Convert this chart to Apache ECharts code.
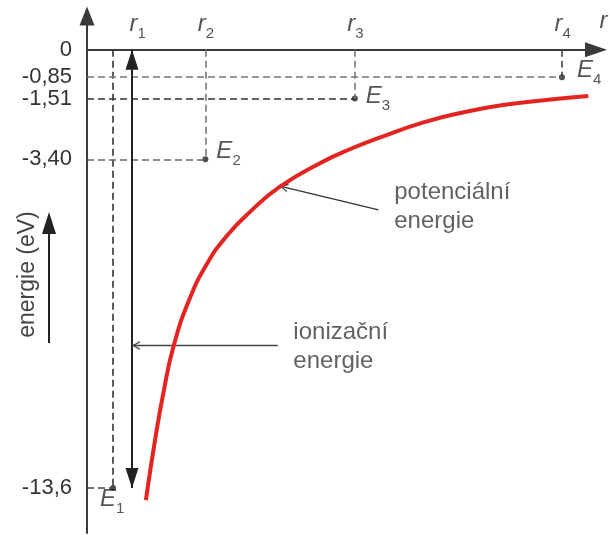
<!DOCTYPE html>
<html><head><meta charset="utf-8">
<script src="https://cdn.jsdelivr.net/npm/echarts@6/dist/echarts.min.js"></script>
<style>html,body{margin:0;padding:0;background:#fff}#c{width:610px;height:535px}</style>
</head><body><div id="c"></div>
<script>
// ---------------- data ----------------
const levelNames = ['1', '2', '3', '4'];
const levelR = [0.88, 4.0, 9.05, 16.05];          // drawn orbit radii r1..r4
const levelE = [-13.6, -3.40, -1.51, -0.85];        // energies E1..E4 (eV)
const tickValues = [0, -0.85, -1.51, -3.40, -13.6];
const tickLabels = ['0', '-0,85', '-1,51', '-3,40', '-13,6'];
const curveR = [1.99, 2.30, 2.58, 2.92, 3.45, 4.05, 4.72, 5.51, 6.52, 7.87, 8.9, 9.96, 11.37, 12.77, 14.18, 15.59, 16.94];
const curveE = [-13.98, -12.11, -10.66, -9.22, -7.77, -6.65, -5.78, -5.03, -4.25, -3.52, -3.08, -2.70, -2.25, -1.93, -1.70, -1.55, -1.43];
const potentialText = 'potenciální\nenergie';
const ionizationText = 'ionizační\nenergie';
const axisName = 'energie (eV)';

// ---------------- layout ----------------
const FONT = '"Liberation Sans", Arial, Helvetica, sans-serif';
const X_MAX = 17.2, Y_MIN = -15, Y_MAX = 1.05;
const ionX = 1.52;                       // double arrow position
const potLeader = [[6.52, -4.23], [9.85, -4.97]];
const ionLeader = [[ionX, -9.18], [6.45, -9.18]];
const potTextAt = [10.40, -3.98];
const ionTextAt = [6.99, -8.34];
const eLabelPos = [[-10, 7], [14, -12], [14, -6], [18, -11]];
const rLabelPos = [[17, -32], [-7, -32], [-7, -32], [-7, -32]];
const hColors = ['#444', '#666', '#333', '#777'];
const vColors = ['#333', '#777', '#777', '#444'];
const chevron = 'path://M0,10 L5,0 L10,10 L8.4,10 L5,3 L1.6,10 Z';

function subRich(size, sub) {
  return {
    m: {fontFamily: FONT, fontStyle: 'italic', fontSize: size, lineHeight: size, padding: [0, 0, 5, 0], verticalAlign: 'bottom', color: '#2a2a2a'},
    s: {fontFamily: FONT, fontSize: sub, lineHeight: sub, verticalAlign: 'bottom', color: '#2a2a2a'}
  };
}

const guideLines = [];
levelR.forEach((r, i) => {
  guideLines.push([{coord: [0, levelE[i]], lineStyle: {color: hColors[i]}}, {coord: [r, levelE[i]]}]);
  guideLines.push([{coord: [r, 0], lineStyle: {color: vColors[i]}}, {coord: [r, levelE[i]]}]);
});

const chart = echarts.init(document.getElementById('c'));
chart.setOption({
  animation: false,
  backgroundColor: '#fff',
  grid: {left: 87, right: 14, top: 16, bottom: 2, containLabel: false, outerBoundsMode: 'none'},
  xAxis: {
    type: 'value', min: 0, max: X_MAX,
    axisLine: {onZero: true, symbol: ['none', 'triangle'], symbolSize: [15, 22], lineStyle: {color: '#3a3a3a', width: 2}},
    axisTick: {show: false}, axisLabel: {show: false}, splitLine: {show: false}
  },
  yAxis: {
    type: 'value', min: Y_MIN, max: Y_MAX,
    name: axisName, nameLocation: 'middle', nameRotate: 90, nameGap: 48, nameMoveOverlap: false,
    nameTextStyle: {fontFamily: FONT, fontSize: 23, color: '#444'},
    axisLine: {symbol: ['none', 'triangle'], symbolSize: [15, 19], lineStyle: {color: '#3a3a3a', width: 2}},
    axisTick: {show: false},
    splitLine: {show: false},
    axisLabel: {
      customValues: tickValues, margin: 15,
      fontFamily: FONT, fontSize: 22, color: '#333',
      formatter: v => { const k = tickValues.findIndex(t => Math.abs(t - v) < 1e-6); return k >= 0 ? tickLabels[k] : ''; }
    }
  },
  graphic: [
    {type: 'line', shape: {x1: 49, y1: 343, x2: 49, y2: 228}, style: {stroke: '#222', lineWidth: 2}},
    {type: 'polygon', shape: {points: [[42, 234], [56, 234], [49, 212]]}, style: {fill: '#222'}}
  ],
  series: [
    {
      type: 'line', name: 'curve', z: 5,
      data: curveR.map((r, i) => [r, curveE[i]]),
      smooth: 0.5, showSymbol: false, symbol: 'none',
      lineStyle: {color: '#e42421', width: 4}
    },
    {
      type: 'scatter', name: 'levels', z: 4,
      data: levelR.map((r, i) => ({
        value: [r, levelE[i]],
        label: {show: true, position: eLabelPos[i], align: 'left', verticalAlign: 'top',
          formatter: '{m|E}{s|' + levelNames[i] + '}', rich: subRich(24, 15)}
      })),
      symbol: 'circle', symbolSize: 6, itemStyle: {color: '#222'},
      markLine: {
        silent: true, symbol: 'none', label: {show: false},
        lineStyle: {type: [7, 4], width: 1.6, color: '#555'},
        data: guideLines
      }
    },
    {
      type: 'scatter', name: 'rlabels', z: 4,
      data: levelR.map((r, i) => ({
        value: [r, 0],
        label: {show: true, position: rLabelPos[i], align: 'left', verticalAlign: 'top',
          formatter: '{m|r}{s|' + levelNames[i] + '}', rich: subRich(24, 15)}
      })).concat([{
        value: [X_MAX, 0],
        label: {show: true, position: [4, -35], align: 'left', verticalAlign: 'top',
          formatter: '{m|r}', rich: subRich(24, 15)}
      }]),
      symbolSize: 1, itemStyle: {color: 'rgba(0,0,0,0)'}
    },
    {
      type: 'scatter', name: 'annotations', z: 6,
      data: [
        {value: potTextAt, label: {show: true, formatter: potentialText}},
        {value: ionTextAt, label: {show: true, formatter: ionizationText}}
      ],
      symbolSize: 1, itemStyle: {color: 'rgba(0,0,0,0)'},
      label: {position: [0, 0], align: 'left', verticalAlign: 'top', fontFamily: FONT, fontSize: 24, lineHeight: 29, color: '#3a3a3a'},
      markLine: {
        silent: true, label: {show: false},
        data: [
          [{coord: [ionX, 0], symbol: 'triangle', symbolSize: [13, 20], symbolOffset: [0, 10], lineStyle: {color: '#222', width: 2, type: 'solid'}},
           {coord: [ionX, levelE[0]], symbol: 'triangle', symbolSize: [13, 20], symbolOffset: [0, 10]}],
          [{coord: potLeader[0], symbol: chevron, symbolSize: [9, 8], symbolOffset: [0, 4], lineStyle: {color: '#333', width: 1.3, type: 'solid'}},
           {coord: potLeader[1], symbol: 'none'}],
          [{coord: ionLeader[0], symbol: chevron, symbolSize: [9, 8], symbolOffset: [0, 4], lineStyle: {color: '#444', width: 1.3, type: 'solid'}},
           {coord: ionLeader[1], symbol: 'none'}]
        ]
      }
    }
  ]
});
</script>
</body></html>
